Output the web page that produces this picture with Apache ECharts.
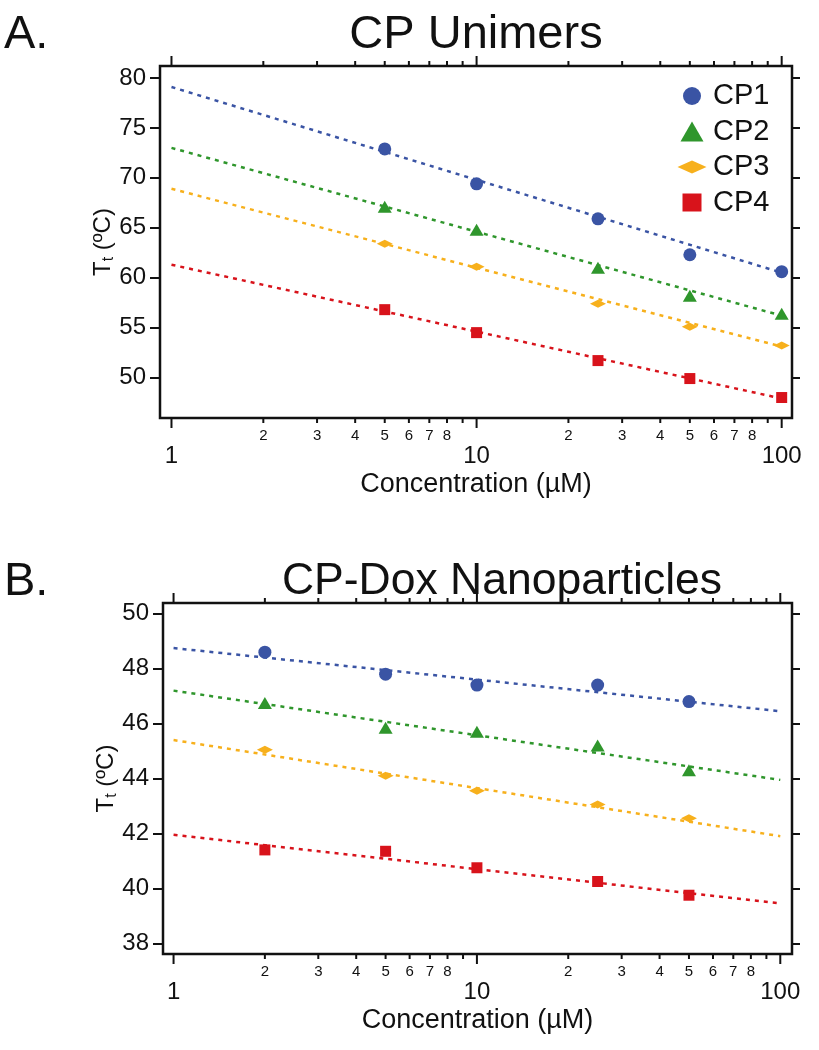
<!DOCTYPE html>
<html><head><meta charset="utf-8">
<script src="https://cdn.jsdelivr.net/npm/echarts@6/dist/echarts.min.js"></script>
<style>html,body{margin:0;padding:0;background:#fff}#c{width:819px;height:1050px}</style>
</head><body><div id="c"></div>
<script>
// ---------- data ----------
const seriesNames = ['CP1', 'CP2', 'CP3', 'CP4'];

// Panel A: CP Unimers
const concA = [5, 10, 25, 50, 100];
const cp1A = [72.9, 69.4, 65.9, 62.3, 60.6];
const cp2A = [67.1, 64.8, 61.0, 58.2, 56.4];
const cp3A = [63.4, 61.1, 57.4, 55.1, 53.2];
const cp4A = [56.8, 54.5, 51.7, 49.9, 48.0];
const fitConcA = [1, 100];
const fit1A = [79.1, 60.5];
const fit2A = [73.0, 56.2];
const fit3A = [68.9, 53.1];
const fit4A = [61.3, 47.9];

// Panel B: CP-Dox Nanoparticles
const concB = [2, 5, 10, 25, 50];
const cp1B = [48.6, 47.8, 47.4, 47.4, 46.8];
const cp2B = [46.75, 45.85, 45.7, 45.2, 44.3];
const cp3B = [45.05, 44.1, 43.55, 43.05, 42.55];
const cp4B = [41.4, 41.35, 40.75, 40.25, 39.75];
const fitConcB = [1, 100];
const fit1B = [48.75, 46.45];
const fit2B = [47.2, 43.95];
const fit3B = [45.4, 41.9];
const fit4B = [41.95, 39.45];

// Tick values / labels
const yTicksA = [50, 55, 60, 65, 70, 75, 80];
const yTicksB = [38, 40, 42, 44, 46, 48, 50];
const xTickValues = [1, 2, 3, 4, 5, 6, 7, 8, 9, 10, 20, 30, 40, 50, 60, 70, 80, 90, 100];
const xTickLabels = ['1', '2', '3', '4', '5', '6', '7', '8', '', '10', '2', '3', '4', '5', '6', '7', '8', '', '100'];
const xMajorTicks = [1, 10, 100];

// ---------- styling ----------
const FONT = '"Liberation Sans", Arial, Helvetica, sans-serif';
const INK = '#111111';
const colors = ['#3a54a4', '#2f962c', '#f7b01c', '#d8131b'];
const symbols = ['circle', 'triangle', 'diamond', 'rect'];
const symbolSizes = [13, [14, 12], [16, 8], 11];

const panelA = { pts: [cp1A, cp2A, cp3A, cp4A], fits: [fit1A, fit2A, fit3A, fit4A], conc: concA, fitConc: fitConcA };
const panelB = { pts: [cp1B, cp2B, cp3B, cp4B], fits: [fit1B, fit2B, fit3B, fit4B], conc: concB, fitConc: fitConcB };

function tickRenderer(params, api) {
  const i = params.dataIndex;
  const v = api.value(0);
  const cs = params.coordSys;
  const x = api.coord([v, api.value(1)])[0];
  const bottom = cs.y + cs.height, top = cs.y;
  const major = xMajorTicks.indexOf(v) >= 0;
  const len = major ? 10 : 5;
  const children = [
    { type: 'line', shape: { x1: x, y1: bottom, x2: x, y2: bottom + len }, style: { stroke: INK, lineWidth: 2 } },
    { type: 'line', shape: { x1: x, y1: top, x2: x, y2: top - len }, style: { stroke: INK, lineWidth: 2 } }
  ];
  const label = xTickLabels[i];
  if (label) {
    children.push({
      type: 'text', x: x, y: bottom + (major ? 38 : 18),
      style: { text: label, fontSize: major ? 24 : 15, fontFamily: FONT, fill: INK, align: 'center', verticalAlign: 'middle' }
    });
  }
  return { type: 'group', children: children };
}

function buildSeries(panel, gi, yTicks) {
  const out = [];
  panel.fits.forEach((fy, k) => {
    out.push({
      name: seriesNames[k] + ' fit', type: 'line', xAxisIndex: gi, yAxisIndex: gi * 2,
      data: panel.fitConc.map((c, j) => [c, fy[j]]),
      symbol: 'none', silent: true, z: 2,
      lineStyle: { color: colors[k], width: 2.5, type: [4, 5] }
    });
  });
  panel.pts.forEach((ys, k) => {
    out.push({
      name: seriesNames[k], type: 'scatter', xAxisIndex: gi, yAxisIndex: gi * 2,
      data: panel.conc.map((c, j) => [c, ys[j]]),
      symbol: symbols[k], symbolSize: symbolSizes[k], z: 3,
      itemStyle: { color: colors[k], opacity: 1 }
    });
  });
  out.push({
    type: 'custom', xAxisIndex: gi, yAxisIndex: gi * 2, silent: true, z: 5,
    data: xTickValues.map(v => [v, yTicks[0]]),
    renderItem: tickRenderer
  });
  return out;
}

function yAxes(gi, min, max, ticks) {
  const nameRich = {
    a: { fontSize: 24, fontFamily: FONT, color: INK, lineHeight: 28 },
    s: { fontSize: 16, fontFamily: FONT, color: INK, lineHeight: 12, verticalAlign: 'bottom' }
  };
  return [
    {
      type: 'value', gridIndex: gi, position: 'left', min: min, max: max,
      name: '{a|T}{s|t}{a| (ºC)}', nameLocation: 'middle', nameGap: 43, nameMoveOverlap: false,
      nameTextStyle: { rich: nameRich },
      axisLine: { show: false }, splitLine: { show: false },
      axisTick: { show: true, customValues: ticks, length: 10, lineStyle: { color: INK, width: 2 } },
      axisLabel: { show: true, customValues: ticks, margin: 14, fontSize: 24, fontFamily: FONT, color: INK }
    },
    {
      type: 'value', gridIndex: gi, position: 'right', min: min, max: max,
      axisLine: { show: false }, splitLine: { show: false },
      axisTick: { show: true, customValues: ticks, length: 8, lineStyle: { color: INK, width: 2 } },
      axisLabel: { show: false }
    }
  ];
}

function xAxis(gi, min, max) {
  return {
    type: 'log', logBase: 10, gridIndex: gi, min: min, max: max,
    name: 'Concentration (µM)', nameLocation: 'middle', nameGap: 53, nameMoveOverlap: false,
    nameTextStyle: { fontSize: 27, fontFamily: FONT, color: INK },
    axisLine: { show: false }, axisTick: { show: false }, axisLabel: { show: false }, splitLine: { show: false }
  };
}

const legendSizes = [[18, 18], [23, 20], [29, 13], [19, 18]];
const legendRows = [96, 131.5, 167, 202.5];
const legendPads = [7, 4.5, 1.5, 6.5];
const legends = seriesNames.map((n, i) => ({
  data: [{ name: n, icon: symbols[i], itemStyle: { color: colors[i] } }],
  left: 692 - legendSizes[i][0] / 2, top: legendRows[i] - 14.5,
  itemWidth: legendSizes[i][0], itemHeight: legendSizes[i][1],
  padding: 0, selectedMode: false,
  textStyle: { fontSize: 29, fontFamily: FONT, color: INK, padding: [0, 0, 0, legendPads[i]] }
}));

function titleText(text, x, y, size) {
  return { type: 'text', x: x, y: y, style: { text: text, fontSize: size, fontFamily: FONT, fill: INK, align: 'center', verticalAlign: 'middle' } };
}

const option = {
  animation: false,
  backgroundColor: '#ffffff',
  grid: [
    { left: 160, top: 66, width: 632, height: 352, show: true, borderColor: INK, borderWidth: 2.5, backgroundColor: 'transparent' },
    { left: 163, top: 603, width: 629, height: 351, show: true, borderColor: INK, borderWidth: 2.5, backgroundColor: 'transparent' }
  ],
  xAxis: [xAxis(0, 0.917, 108.1), xAxis(1, 0.923, 109.3)],
  yAxis: [].concat(yAxes(0, 45.95, 81.2, yTicksA), yAxes(1, 37.61, 50.39, yTicksB)),
  legend: legends,
  graphic: [
    titleText('CP Unimers', 476, 35, 47),
    titleText('CP-Dox Nanoparticles', 502, 582, 44.5),
    { type: 'text', x: 4, y: 35, style: { text: 'A.', fontSize: 47, fontFamily: FONT, fill: INK, align: 'left', verticalAlign: 'middle' } },
    { type: 'text', x: 4, y: 582, style: { text: 'B.', fontSize: 47, fontFamily: FONT, fill: INK, align: 'left', verticalAlign: 'middle' } }
  ],
  series: [].concat(buildSeries(panelA, 0, yTicksA), buildSeries(panelB, 1, yTicksB))
};

echarts.init(document.getElementById('c'), null, { renderer: 'canvas' }).setOption(option);
</script>
</body></html>
